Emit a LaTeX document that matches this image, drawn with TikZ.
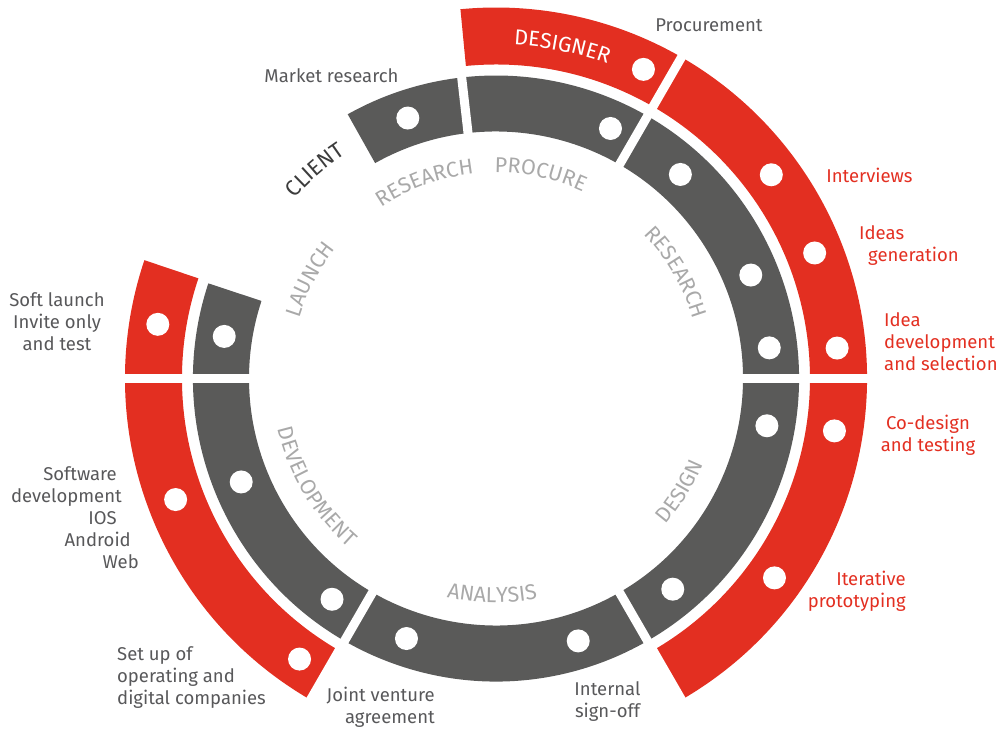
\documentclass[tikz,border=0pt]{standalone}
\usepackage{fontspec}
\setmainfont{Fira Sans}
\usepackage{xcolor}
\usetikzlibrary{decorations.text}
\definecolor{ringred}{HTML}{E32F21}
\definecolor{ringgrey}{HTML}{5A5A59}
\definecolor{lblgrey}{HTML}{58585A}
\definecolor{ringtxt}{HTML}{A9A9A9}
\definecolor{clienttxt}{HTML}{3C3C3C}
\newcommand\ringfont{\fontsize{21.5}{25}\selectfont}
\newcommand\clientfont{\fontsize{22}{26}\selectfont}
\newcommand\padr[1]{\makebox[#1]{}}
\tikzset{
  greyseg/.style={fill=ringgrey},
  redseg/.style={fill=ringred},
  gapline/.style={draw=white, line width=9pt},
  hole/.style={circle, fill=white, inner sep=0pt, minimum size=23pt},
  lbl/.style={text=lblgrey, font=\fontsize{18.5}{22}\selectfont, inner sep=0pt},
  rlbl/.style={text=ringred, font=\fontsize{18.5}{22}\selectfont, inner sep=0pt},
  ringlbl/.style={decorate, decoration={text along path, text align=center, text color=ringtxt}}
}

\begin{document}
\begin{tikzpicture}[x=1pt, y=1pt]
\useasboundingbox (-496,-352.5) rectangle (505,378.5);

% rings
\fill[greyseg] (119.3:247) arc[start angle=119.3, end angle=-198.3, radius=247]
  -- (-198.3:303) arc[start angle=-198.3, end angle=119.3, radius=303] -- cycle;
\fill[redseg] (95.5:314) arc[start angle=95.5, end angle=-60, radius=314]
  -- (-60:371) arc[start angle=-60, end angle=95.5, radius=371] -- cycle;
\fill[redseg] (161.4:314) arc[start angle=161.4, end angle=240, radius=314]
  -- (240:371) arc[start angle=240, end angle=161.4, radius=371] -- cycle;

% gaps
\draw[gapline] (96.5:240) -- (96.5:309);
\draw[gapline] (60:240) -- (60:380);
\draw[gapline] (0:240) -- (0:380);
\draw[gapline] (-60:240) -- (-60:380);
\draw[gapline] (-120:240) -- (-120:380);
\draw[gapline] (180:240) -- (180:380);

% grey ring holes
\node[hole] (g1) at (108.7:275) {};
\node[hole] (g2) at (65.4:275) {};
\node[hole] (g3) at (47.9:275) {};
\node[hole] (g4) at (22.1:275) {};
\node[hole] (g5) at (6.4:275) {};
\node[hole] (g6) at (-9.9:275) {};
\node[hole] (g7) at (-50:275) {};
\node[hole] (g8) at (-72.6:275) {};
\node[hole] (g9) at (-109:275) {};
\node[hole] (g10) at (-126.6:275) {};
\node[hole] (g11) at (202.1:275) {};
\node[hole] (g12) at (171.2:275) {};

% red ring holes
\node[hole] (r1) at (64.5:342.5) {};
\node[hole] (r2) at (36.5:342.5) {};
\node[hole] (r3) at (21.5:342.5) {};
\node[hole] (r4) at (5.1:342.5) {};
\node[hole] (r5) at (-8.8:342.5) {};
\node[hole] (r6) at (-35.6:342.5) {};
\node[hole] (r7) at (235:342.5) {};
\node[hole] (r8) at (200.7:342.5) {};
\node[hole] (r9) at (170.9:342.5) {};

% stage names
\path[ringlbl, decoration={text={|\ringfont|RESEARCH}}] (160:206) arc[start angle=160, end angle=60, radius=206];
\path[ringlbl, decoration={text={|\ringfont|PROCURE}}] (127.7:206) arc[start angle=127.7, end angle=27.7, radius=206];
\path[ringlbl, decoration={text={|\ringfont|RESEARCH}}] (80.5:206) arc[start angle=80.5, end angle=-19.5, radius=206];
\path[ringlbl, decoration={text={|\ringfont|LAUNCH}}] (202:206) arc[start angle=202, end angle=102, radius=206];
\path[ringlbl, decoration={text={|\ringfont|DESIGN}}] (-81.5:224) arc[start angle=-81.5, end angle=18.5, radius=224];
\path[ringlbl, decoration={text={|\ringfont|ANALYSIS}}] (-141:224) arc[start angle=-141, end angle=-41, radius=224];
\path[ringlbl, decoration={text={|\ringfont|DEVELOPMENT}}] (161:224) arc[start angle=161, end angle=261, radius=224];
\path[decorate, decoration={text along path, text align=center, text color=clienttxt, text={|\clientfont|CLIENT}}]
  (171:270) arc[start angle=171, end angle=91, radius=270];
\path[decorate, decoration={text along path, text align=center, text color=white, text={|\ringfont|DESIGNER}}]
  (118.7:334) arc[start angle=118.7, end angle=38.7, radius=334];

% labels
\node[lbl] (procure) at (213,353.5) {Procurement};
\node[lbl] (market) at (-164.5,302.5) {Market research};
\node[rlbl] (interv) at (373.5,203.5) {Interviews};
\node[rlbl, anchor=west, align=left] (ideas) at (363,132.5) {Ideas\\\padr{9pt}generation};
\node[rlbl, anchor=west, align=left] (ideadev) at (388,36.5) {Idea\\development\\and selection};
\node[rlbl, align=center] (codesign) at (432,-57) {Co-design\\and testing};
\node[rlbl, anchor=east, align=right] (iter) at (410,-212.5) {Iterative\\prototyping};
\node[lbl, align=center] (signoff) at (111.5,-323.5) {Internal\\sign-off};
\node[lbl, anchor=east, align=right] (joint) at (-61,-329) {Joint venture\\agreement};
\node[lbl, anchor=west, align=left] (setup) at (-379,-299.5) {Set up of\\operating and\\digital companies};
\node[lbl, anchor=east, align=right] (software) at (-357,-139.5)
  {Software\padr{22pt}\\development\padr{17pt}\\IOS\padr{22pt}\\Android\padr{8pt}\\Web};
\node[lbl, align=center] (softl) at (-439,56.5) {Soft launch\\Invite only\\and test};
\end{tikzpicture}
\end{document}
